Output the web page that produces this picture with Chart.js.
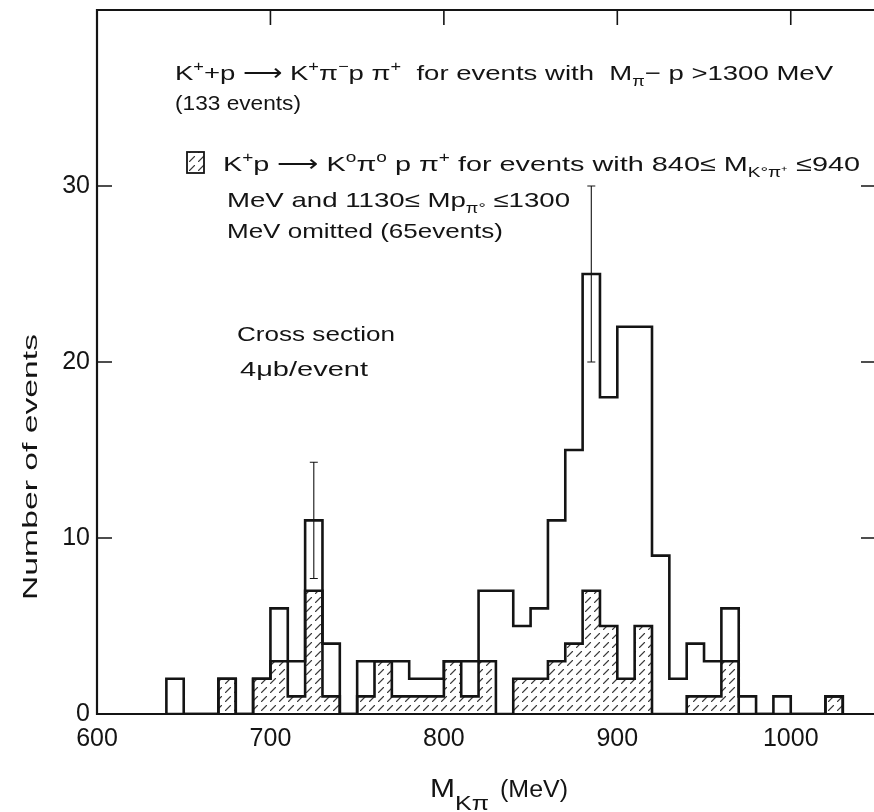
<!DOCTYPE html>
<html><head><meta charset="utf-8">
<script src="https://cdn.jsdelivr.net/npm/chart.js@4.4.1/dist/chart.umd.min.js"></script>
<style>html,body{margin:0;padding:0;background:#fff;}#wrap{width:874px;height:812px;}</style>
</head><body><div id="wrap"><canvas id="c" width="874" height="812"></canvas></div>
<script>
// ---- data (bins of 10 MeV, value = left edge of bin) ----
const binStarts = [640,650,660,670,680,690,700,710,720,730,740,750,760,770,780,790,800,810,820,830,840,850,860,870,880,890,900,910,920,930,940,950,960,970,980,990,1000,1010,1020];
const binWidth = 10;
// K+p -> K+ pi- p pi+ (open histogram outline)
const openCounts = [2,0,0,2,0,2,6,3,11,4,0,3,3,3,2,2,3,3,7,7,5,6,11,15,25,18,22,22,9,2,4,3,6,1,0,1,0,0,1];
// K+p -> K0 pi0 p pi+ (hatched histogram)
const hatchedCounts = [0,0,0,2,0,2,3,1,7,1,0,1,3,1,1,1,3,1,3,0,2,2,3,4,7,5,2,5,0,0,1,1,3,0,0,0,0,0,1];
// error bars
const errX = [725, 885];
const errLow = [7.7, 20];
const errHigh = [14.3, 30];
const xTicks = [600,700,800,900,1000];
const yTicks = [0,10,20,30];
const xTickMarks = [700,800,900,1000];
const yTickMarks = [10,20,30];

const FONT = '"Liberation Sans", Arial, sans-serif';
const INK = '#141414';

function stepPoints(counts){
  const pts = [{x: binStarts[0], y: 0}];
  binStarts.forEach((b,i)=>pts.push({x:b, y:counts[i]}));
  pts.push({x: binStarts[binStarts.length-1] + binWidth, y: 0});
  return pts;
}

const canvas = document.getElementById('c');
const ctx0 = canvas.getContext('2d');
function makeHatch(){
  const c = document.createElement('canvas'); c.width = 9; c.height = 9;
  const g = c.getContext('2d');
  g.strokeStyle = '#3a3a3a'; g.lineWidth = 1.1; g.lineCap='round';
  g.beginPath(); g.moveTo(0.5,8.5); g.lineTo(5.5,3.5); g.stroke();
  return ctx0.createPattern(c,'repeat');
}
const hatch = makeHatch();

function drawRich(ctx, segs, x, y, size, targetW){
  let w = 0;
  const items = segs.map(s=>{
    const sz = s.k ? size*0.66 : size;
    ctx.font = sz + 'px ' + FONT;
    const m = ctx.measureText(s.t).width;
    w += m;
    return {t:s.t, k:s.k, sz, m};
  });
  const sx = targetW ? targetW / w : 1;
  ctx.save();
  ctx.translate(x, y); ctx.scale(sx, 1);
  ctx.textBaseline = 'alphabetic'; ctx.textAlign = 'left';
  let cx = 0;
  items.forEach(it=>{
    ctx.font = it.sz + 'px ' + FONT;
    let dy = 0;
    if (it.k === 'sup') dy = -size*0.42;
    if (it.k === 'sub') dy = size*0.28;
    ctx.fillText(it.t, cx, dy);
    cx += it.m;
  });
  ctx.restore();
}

const decor = {
  id: 'decor',
  afterDatasetsDraw(chart){
    const ctx = chart.ctx, xs = chart.scales.x, ys = chart.scales.y, a = chart.chartArea;
    ctx.save();
    ctx.strokeStyle = INK; ctx.fillStyle = INK;
    // frame
    ctx.lineWidth = 2.2;
    ctx.beginPath();
    ctx.moveTo(a.right+2, a.top); ctx.lineTo(a.left, a.top); ctx.lineTo(a.left, a.bottom); ctx.lineTo(a.right+2, a.bottom);
    ctx.stroke();
    // inward ticks
    ctx.lineWidth = 1.6;
    ctx.beginPath();
    xTickMarks.forEach(v=>{const px = xs.getPixelForValue(v); ctx.moveTo(px, a.top); ctx.lineTo(px, a.top+15);});
    yTickMarks.forEach(v=>{const py = ys.getPixelForValue(v); ctx.moveTo(a.left, py); ctx.lineTo(a.left+15, py); ctx.moveTo(a.right, py); ctx.lineTo(a.right-13, py);});
    ctx.stroke();
    // error bars
    ctx.lineWidth = 1.1;
    ctx.beginPath();
    errX.forEach((v,i)=>{
      const px = xs.getPixelForValue(v), y1 = ys.getPixelForValue(errLow[i]), y2 = ys.getPixelForValue(errHigh[i]);
      ctx.moveTo(px, y1); ctx.lineTo(px, y2);
      ctx.moveTo(px-4, y1); ctx.lineTo(px+4, y1);
      ctx.moveTo(px-4, y2); ctx.lineTo(px+4, y2);
    });
    ctx.stroke();
    // annotations
    const S = 21;
    drawRich(ctx, [{t:'K'},{t:'+',k:'sup'},{t:'+p \u27F6 K'},{t:'+',k:'sup'},{t:'\u03C0'},{t:'\u2212',k:'sup'},{t:'p \u03C0'},{t:'+',k:'sup'},{t:'  for events with  M'},{t:'\u03C0',k:'sub'},{t:'\u2212 p >1300 MeV'}], 175, 80, S, 658);
    drawRich(ctx, [{t:'(133 events)'}], 175, 110, S, 126);
    // legend box
    ctx.fillStyle = hatch; ctx.fillRect(187, 152, 17, 21);
    ctx.fillStyle = INK; ctx.lineWidth = 1.8; ctx.strokeRect(187, 152, 17, 21);
    drawRich(ctx, [{t:'K'},{t:'+',k:'sup'},{t:'p \u27F6 K'},{t:'o',k:'sup'},{t:'\u03C0'},{t:'o',k:'sup'},{t:' p \u03C0'},{t:'+',k:'sup'},{t:' for events with 840\u2264 M'},{t:'K\u00B0\u03C0\u207A',k:'sub'},{t:' \u2264940'}], 223, 171, S, 637);
    drawRich(ctx, [{t:'MeV and 1130\u2264 Mp'},{t:'\u03C0\u00B0',k:'sub'},{t:' \u22641300'}], 227, 207, S, 343);
    drawRich(ctx, [{t:'MeV omitted (65events)'}], 227, 238, S, 276);
    drawRich(ctx, [{t:'Cross section'}], 237, 341, S, 158);
    drawRich(ctx, [{t:'4\u03BCb/event'}], 240, 376, S, 128);
    // axis titles
    drawRich(ctx, [{t:'M'}], 430, 797, 25, 25);
    drawRich(ctx, [{t:'K\u03C0'}], 455, 810, 21, 34);
    drawRich(ctx, [{t:'(MeV)'}], 500, 797, 23, 68);
    ctx.save();
    ctx.translate(37, 600); ctx.rotate(-Math.PI/2);
    drawRich(ctx, [{t:'Number of events'}], 0, 0, 21, 266);
    ctx.restore();
    ctx.restore();
  }
};

new Chart(canvas, {
  type: 'line',
  data: {
    datasets: [
      {label:'K+p → K+π−pπ+', data: stepPoints(openCounts), stepped: true, borderColor: INK, borderWidth: 2.6, pointRadius: 0, fill: false, borderJoinStyle:'miter'},
      {label:'K+p → K0π0pπ+', data: stepPoints(hatchedCounts), stepped: true, borderColor: INK, borderWidth: 2.6, pointRadius: 0, fill: 'origin', backgroundColor: hatch, borderJoinStyle:'miter'}
    ]
  },
  options: {
    responsive: false, animation: false,
    layout: {padding: {top: 10, right: 0, left: 0, bottom: 0}},
    plugins: {legend: {display: false}, tooltip: {enabled: false}},
    scales: {
      x: {type: 'linear', min: 600, max: 1048,
          afterBuildTicks: s => { s.ticks = xTicks.map(v=>({value: v})); },
          afterFit: s => { s.height = 98; s.paddingLeft = 0; s.paddingRight = 0; },
          grid: {display: false, drawTicks: false}, border: {display: false},
          ticks: {font: {family: FONT, size: 25}, color: INK, padding: 10, maxRotation: 0, autoSkip: false, callback: v => String(v)}},
      y: {type: 'linear', min: 0, max: 40,
          afterBuildTicks: s => { s.ticks = yTicks.map(v=>({value: v})); },
          afterFit: s => { s.width = 97; s.paddingTop = 0; s.paddingBottom = 0; },
          grid: {display: false, drawTicks: false}, border: {display: false},
          ticks: {font: {family: FONT, size: 25}, color: INK, padding: 7, callback: v => String(v)}}
    }
  },
  plugins: [decor]
});
</script></body></html>
